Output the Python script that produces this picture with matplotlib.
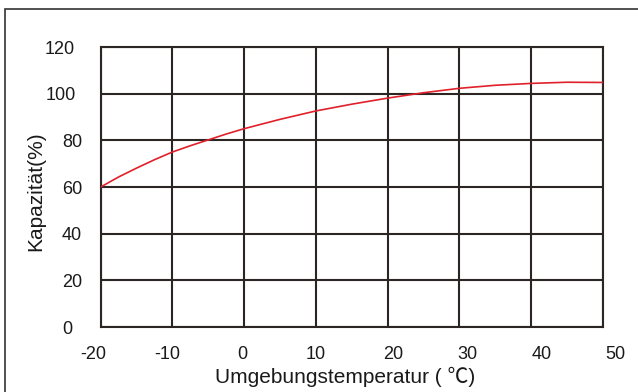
import matplotlib.pyplot as plt
from matplotlib.patches import Rectangle
from matplotlib.transforms import ScaledTranslation

plt.rcParams['font.family'] = ['Liberation Sans', 'Noto Sans CJK SC', 'DejaVu Sans']
plt.rcParams['axes.unicode_minus'] = False

# Kapazität über Umgebungstemperatur
temp = [-20, -17.5, -15, -12.5, -10, -7.5, -5, -2.5, 0, 5, 10, 15, 20, 25, 30, 35, 40, 45, 50]
kap = [60, 64.3, 68.1, 71.7, 75, 77.7, 80.2, 82.7, 85, 89, 92.6, 95.5, 98.1, 100.4, 102.3, 103.6, 104.4, 104.9, 104.8]

xticks = [-20, -10, 0, 10, 20, 30, 40, 50]
yticks = [0, 20, 40, 60, 80, 100, 120]

# Verschiebung der Beschriftungen in Pixel (etwas unregelmäßig gesetzt)
xlab_shift = [-7, -5, -1.5, 0, 5, 7.5, 10, 12.5]
ylab_shift = [-10, 0, 0, 0, 0, -6, -7]

fig = plt.figure(figsize=(6.38, 3.92), dpi=100)
ax = fig.add_axes([0.1578, 0.1658, 0.7873, 0.7143])

ax.plot(temp, kap, color='#e0202a', linewidth=1.2, zorder=3)

ax.set_xlim(-20, 50)
ax.set_ylim(0, 120)
ax.set_xticks(xticks)
ax.set_yticks(yticks)
ax.grid(True, color='#2b2624', linewidth=1.5)
ax.set_axisbelow(True)
for s in ax.spines.values():
    s.set_color('#2b2624')
    s.set_linewidth(1.5)
ax.tick_params(length=0, labelsize=13, colors='#1a1a1a')
ax.tick_params(axis='y', pad=13.5)
ax.tick_params(axis='x', pad=13.5)

for lab, dx in zip(ax.get_xticklabels(), xlab_shift):
    lab.set_transform(lab.get_transform() + ScaledTranslation(dx / 100, 0, fig.dpi_scale_trans))
for lab, dx in zip(ax.get_yticklabels(), ylab_shift):
    lab.set_transform(lab.get_transform() + ScaledTranslation(dx / 100, 0, fig.dpi_scale_trans))

ax.set_xlabel('Umgebungstemperatur ( ℃)', fontsize=15, color='#1a1a1a')
ax.xaxis.set_label_coords(0.486, -0.142)
ax.set_ylabel('Kapazität(%)', fontsize=15, color='#1a1a1a')
ax.yaxis.set_label_coords(-0.11, 0.484)

# Rahmen um die Grafik (Pixelkoordinaten, unten und rechts offen)
fig.add_artist(Rectangle((5, -100), 700, 392 - 9 + 100, transform=None, fill=False,
                         edgecolor='#333333', linewidth=1.2))

fig.savefig('out.png', dpi=100)
